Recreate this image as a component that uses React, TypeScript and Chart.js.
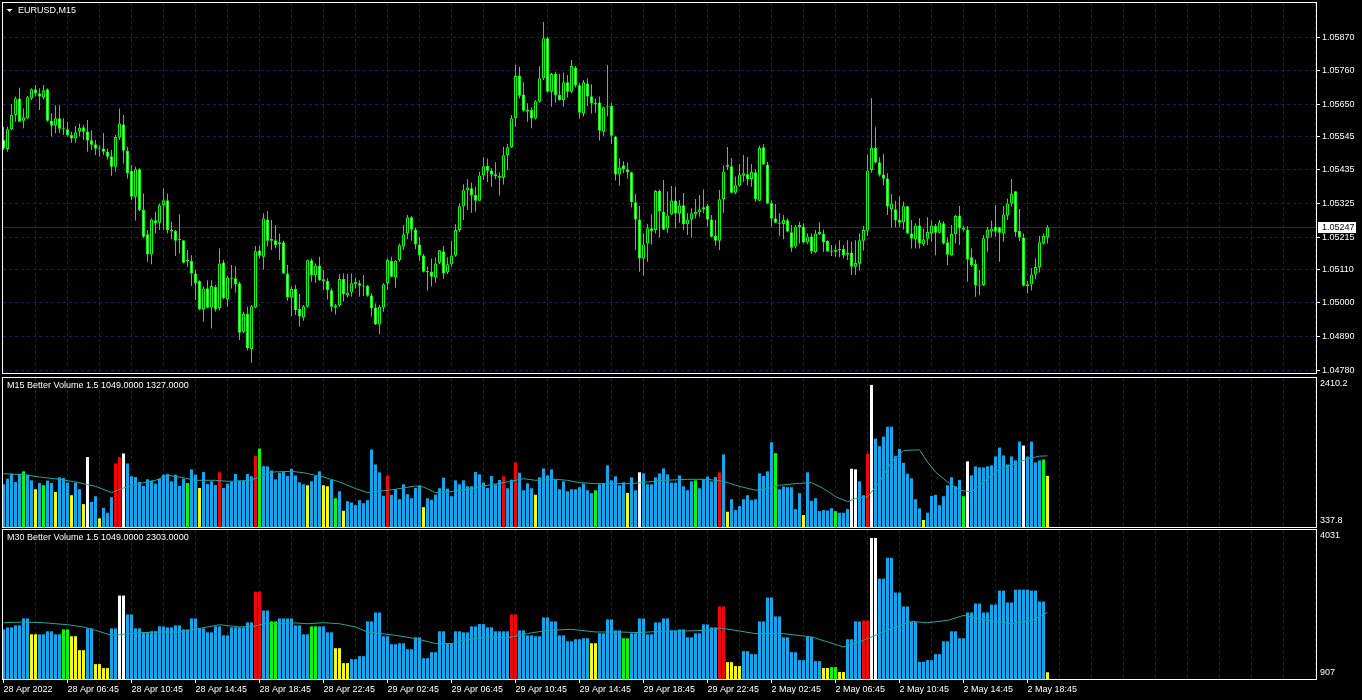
import { useEffect, useRef } from 'react';
import { Chart, registerables } from 'chart.js';

Chart.register(...registerables);

// ---------------- DATA ----------------
const mainTitle = 'EURUSD,M15';
const bidPrice = 1.05247;
const priceTicks = [1.0587, 1.0576, 1.0565, 1.05545, 1.05435, 1.05325, 1.05215, 1.0511, 1.05, 1.0489, 1.0478];
const timeLabels = [
  '28 Apr 2022', '28 Apr 06:45', '28 Apr 10:45', '28 Apr 14:45', '28 Apr 18:45', '28 Apr 22:45',
  '29 Apr 02:45', '29 Apr 06:45', '29 Apr 10:45', '29 Apr 14:45', '29 Apr 18:45', '29 Apr 22:45',
  '2 May 02:45', '2 May 06:45', '2 May 10:45', '2 May 14:45', '2 May 18:45',
];

const openP = [
  1.05533,1.05503,1.05568,1.05615,1.05669,1.05596,1.05604,1.05669,1.05699,1.05685,
  1.05672,1.05699,1.05596,1.05580,1.05604,1.05572,1.05568,1.05549,1.05538,1.05560,
  1.05575,1.05561,1.05532,1.05519,1.05508,1.05505,1.05494,1.05480,1.05445,1.05541,
  1.05584,1.05498,1.05431,1.05347,1.05437,1.05304,1.05224,1.05158,1.05270,1.05262,
  1.05319,1.05336,1.05238,1.05235,1.05205,1.05205,1.05137,1.05137,1.05096,1.05071,
  1.04979,1.05048,1.04985,1.05052,1.04982,1.05132,1.05011,1.05083,1.05080,1.05064,
  1.04905,1.04963,1.04848,1.04985,1.05171,1.05151,1.05273,1.05203,1.05205,1.05192,
  1.05198,1.05096,1.05017,1.05045,1.04980,1.04952,1.04987,1.05139,1.05091,1.05122,
  1.05077,1.05071,1.05041,1.04991,1.04991,1.05078,1.05025,1.05034,1.05061,1.05064,
  1.05057,1.05055,1.05024,1.04985,1.04929,1.04985,1.05064,1.05137,1.05083,1.05140,
  1.05184,1.05227,1.05280,1.05240,1.05191,1.05155,1.05104,1.05102,1.05083,1.05131,
  1.05169,1.05099,1.05126,1.05155,1.05238,1.05316,1.05368,1.05375,1.05353,1.05334,
  1.05417,1.05448,1.05433,1.05421,1.05415,1.05409,1.05483,1.05509,1.05604,1.05744,
  1.05682,1.05631,1.05631,1.05603,1.05658,1.05735,1.05866,1.05691,1.05749,1.05680,
  1.05664,1.05722,1.05691,1.05770,1.05712,1.05620,1.05718,1.05676,1.05656,1.05656,
  1.05560,1.05642,1.05645,1.05544,1.05420,1.05450,1.05437,1.05427,1.05329,1.05273,
  1.05145,1.05194,1.05244,1.05238,1.05367,1.05298,1.05244,1.05289,1.05335,1.05292,
  1.05319,1.05257,1.05273,1.05289,1.05296,1.05306,1.05318,1.05273,1.05219,1.05203,
  1.05339,1.05445,1.05447,1.05360,1.05384,1.05416,1.05421,1.05405,1.05427,1.05334,
  1.05509,1.05453,1.05327,1.05276,1.05263,1.05258,1.05270,1.05231,1.05184,1.05248,
  1.05250,1.05197,1.05217,1.05166,1.05225,1.05227,1.05202,1.05171,1.05167,1.05176,
  1.05176,1.05163,1.05165,1.05118,1.05128,1.05203,1.05236,1.05435,1.05507,1.05460,
  1.05420,1.05407,1.05306,1.05306,1.05271,1.05264,1.05316,1.05227,1.05208,1.05253,
  1.05191,1.05210,1.05227,1.05251,1.05229,1.05260,1.05198,1.05156,1.05224,1.05286,
  1.05246,1.05240,1.05149,1.05127,1.05057,1.05058,1.05211,1.05233,1.05250,1.05247,
  1.05227,1.05286,1.05325,1.05365,1.05235,1.05214,1.05055,1.05060,1.05093,1.05116,
  1.05194,1.05214,
];

const highP = [
  1.05576,1.05576,1.05651,1.05675,1.05704,1.05636,1.05677,1.05702,1.05713,1.05702,
  1.05713,1.05702,1.05620,1.05647,1.05647,1.05604,1.05593,1.05560,1.05579,1.05587,
  1.05582,1.05598,1.05565,1.05533,1.05516,1.05555,1.05505,1.05500,1.05549,1.05636,
  1.05615,1.05511,1.05451,1.05445,1.05440,1.05358,1.05238,1.05276,1.05298,1.05325,
  1.05375,1.05358,1.05265,1.05238,1.05290,1.05205,1.05173,1.05156,1.05107,1.05074,
  1.05053,1.05074,1.05074,1.05058,1.05178,1.05140,1.05088,1.05124,1.05120,1.05069,
  1.04971,1.04987,1.04993,1.05186,1.05186,1.05293,1.05300,1.05271,1.05255,1.05227,
  1.05203,1.05124,1.05053,1.05058,1.05029,1.04993,1.05142,1.05145,1.05129,1.05151,
  1.05107,1.05080,1.05047,1.04996,1.05094,1.05096,1.05094,1.05096,1.05083,1.05074,
  1.05091,1.05058,1.05031,1.04998,1.04993,1.05064,1.05145,1.05151,1.05140,1.05194,
  1.05255,1.05287,1.05284,1.05246,1.05216,1.05160,1.05118,1.05145,1.05149,1.05173,
  1.05186,1.05149,1.05203,1.05257,1.05325,1.05388,1.05404,1.05393,1.05380,1.05429,
  1.05476,1.05472,1.05440,1.05460,1.05427,1.05511,1.05520,1.05615,1.05778,1.05773,
  1.05722,1.05653,1.05640,1.05664,1.05775,1.05919,1.05871,1.05753,1.05756,1.05749,
  1.05753,1.05746,1.05795,1.05775,1.05718,1.05729,1.05735,1.05715,1.05669,1.05675,
  1.05642,1.05778,1.05656,1.05547,1.05473,1.05463,1.05459,1.05429,1.05356,1.05317,
  1.05227,1.05258,1.05290,1.05369,1.05371,1.05402,1.05364,1.05382,1.05380,1.05336,
  1.05359,1.05293,1.05309,1.05340,1.05353,1.05371,1.05323,1.05287,1.05271,1.05369,
  1.05449,1.05510,1.05474,1.05413,1.05454,1.05484,1.05477,1.05454,1.05437,1.05514,
  1.05520,1.05462,1.05336,1.05323,1.05293,1.05287,1.05276,1.05255,1.05255,1.05265,
  1.05260,1.05227,1.05227,1.05238,1.05264,1.05240,1.05205,1.05189,1.05189,1.05205,
  1.05189,1.05205,1.05200,1.05205,1.05227,1.05251,1.05484,1.05670,1.05575,1.05476,
  1.05487,1.05424,1.05356,1.05334,1.05349,1.05331,1.05317,1.05271,1.05260,1.05277,
  1.05243,1.05280,1.05269,1.05258,1.05271,1.05267,1.05213,1.05255,1.05287,1.05317,
  1.05252,1.05251,1.05178,1.05142,1.05107,1.05222,1.05249,1.05269,1.05320,1.05249,
  1.05317,1.05341,1.05405,1.05366,1.05307,1.05227,1.05071,1.05113,1.05145,1.05219,
  1.05227,1.05255,
];

const lowP = [
  1.05500,1.05494,1.05565,1.05593,1.05593,1.05571,1.05601,1.05664,1.05675,1.05631,
  1.05666,1.05593,1.05544,1.05555,1.05555,1.05549,1.05544,1.05524,1.05524,1.05544,
  1.05533,1.05494,1.05500,1.05484,1.05478,1.05484,1.05469,1.05416,1.05429,1.05533,
  1.05456,1.05407,1.05336,1.05269,1.05300,1.05211,1.05134,1.05126,1.05227,1.05238,
  1.05238,1.05227,1.05208,1.05153,1.05162,1.05129,1.05118,1.05055,1.05009,1.04976,
  1.04938,1.04982,1.04916,1.04971,1.04976,1.05012,1.04987,1.05047,1.05034,1.04878,
  1.04900,1.04845,1.04804,1.04982,1.05145,1.05109,1.05184,1.05173,1.05178,1.05140,
  1.05094,1.05007,1.04957,1.04960,1.04922,1.04941,1.04985,1.05069,1.05066,1.05072,
  1.05042,1.05011,1.04971,1.04962,1.04987,1.05004,1.05017,1.05020,1.05047,1.05020,
  1.05022,1.05020,1.04955,1.04927,1.04898,1.04971,1.05042,1.05083,1.05049,1.05134,
  1.05173,1.05208,1.05203,1.05175,1.05138,1.05099,1.05040,1.05053,1.05066,1.05127,
  1.05079,1.05094,1.05118,1.05151,1.05232,1.05271,1.05304,1.05295,1.05298,1.05333,
  1.05402,1.05395,1.05380,1.05404,1.05351,1.05387,1.05435,1.05507,1.05576,1.05669,
  1.05626,1.05593,1.05571,1.05600,1.05655,1.05729,1.05688,1.05642,1.05655,1.05662,
  1.05642,1.05672,1.05685,1.05705,1.05603,1.05609,1.05644,1.05620,1.05622,1.05531,
  1.05546,1.05611,1.05520,1.05400,1.05383,1.05424,1.05407,1.05312,1.05173,1.05102,
  1.05089,1.05134,1.05191,1.05227,1.05214,1.05238,1.05229,1.05287,1.05243,1.05262,
  1.05238,1.05222,1.05213,1.05276,1.05282,1.05293,1.05249,1.05214,1.05187,1.05173,
  1.05295,1.05435,1.05358,1.05355,1.05380,1.05396,1.05384,1.05380,1.05331,1.05332,
  1.05450,1.05323,1.05249,1.05260,1.05219,1.05208,1.05231,1.05167,1.05178,1.05194,
  1.05194,1.05192,1.05160,1.05162,1.05222,1.05167,1.05167,1.05153,1.05151,1.05149,
  1.05145,1.05140,1.05091,1.05091,1.05105,1.05171,1.05219,1.05426,1.05456,1.05413,
  1.05384,1.05287,1.05246,1.05247,1.05247,1.05240,1.05225,1.05178,1.05178,1.05178,
  1.05186,1.05189,1.05200,1.05156,1.05227,1.05191,1.05124,1.05154,1.05194,1.05189,
  1.05233,1.05069,1.05118,1.05020,1.05025,1.05056,1.05167,1.05214,1.05216,1.05134,
  1.05200,1.05271,1.05315,1.05216,1.05202,1.05053,1.05031,1.05040,1.05077,1.05099,
  1.05191,1.05194,
];

const closeP = [
  1.05505,1.05568,1.05615,1.05669,1.05593,1.05607,1.05673,1.05699,1.05685,1.05675,
  1.05696,1.05596,1.05580,1.05604,1.05570,1.05570,1.05549,1.05538,1.05558,1.05573,
  1.05560,1.05531,1.05517,1.05504,1.05505,1.05494,1.05478,1.05445,1.05543,1.05587,
  1.05498,1.05424,1.05347,1.05437,1.05304,1.05216,1.05158,1.05273,1.05260,1.05319,
  1.05336,1.05238,1.05234,1.05203,1.05209,1.05131,1.05140,1.05096,1.05064,1.04979,
  1.05047,1.04984,1.05055,1.04979,1.05129,1.05015,1.05083,1.05079,1.05060,1.04902,
  1.04963,1.04851,1.04989,1.05169,1.05154,1.05276,1.05203,1.05209,1.05189,1.05198,
  1.05096,1.05017,1.05045,1.04976,1.04955,1.04989,1.05139,1.05091,1.05122,1.05074,
  1.05071,1.05042,1.04987,1.04985,1.05078,1.05028,1.05034,1.05064,1.05068,1.05056,
  1.05053,1.05023,1.04982,1.04929,1.04987,1.05061,1.05140,1.05085,1.05138,1.05188,
  1.05224,1.05280,1.05240,1.05191,1.05155,1.05102,1.05100,1.05085,1.05129,1.05172,
  1.05096,1.05126,1.05155,1.05238,1.05316,1.05368,1.05377,1.05351,1.05334,1.05417,
  1.05447,1.05432,1.05419,1.05413,1.05409,1.05483,1.05509,1.05604,1.05742,1.05678,
  1.05629,1.05626,1.05603,1.05660,1.05735,1.05866,1.05691,1.05749,1.05680,1.05664,
  1.05722,1.05691,1.05775,1.05711,1.05622,1.05722,1.05675,1.05653,1.05649,1.05563,
  1.05640,1.05644,1.05547,1.05420,1.05442,1.05437,1.05427,1.05329,1.05273,1.05145,
  1.05191,1.05244,1.05235,1.05366,1.05300,1.05240,1.05286,1.05335,1.05292,1.05319,
  1.05257,1.05273,1.05293,1.05297,1.05306,1.05313,1.05273,1.05216,1.05203,1.05339,
  1.05430,1.05451,1.05360,1.05385,1.05420,1.05424,1.05405,1.05428,1.05340,1.05507,
  1.05453,1.05325,1.05275,1.05262,1.05259,1.05271,1.05233,1.05180,1.05250,1.05255,
  1.05197,1.05217,1.05169,1.05227,1.05232,1.05197,1.05168,1.05167,1.05174,1.05173,
  1.05156,1.05157,1.05118,1.05130,1.05205,1.05238,1.05433,1.05507,1.05459,1.05419,
  1.05406,1.05315,1.05325,1.05269,1.05262,1.05316,1.05227,1.05210,1.05253,1.05194,
  1.05208,1.05232,1.05253,1.05229,1.05264,1.05194,1.05157,1.05225,1.05284,1.05244,
  1.05240,1.05142,1.05124,1.05057,1.05060,1.05211,1.05240,1.05243,1.05233,1.05229,
  1.05289,1.05325,1.05358,1.05231,1.05214,1.05056,1.05061,1.05093,1.05117,1.05198,
  1.05219,1.05247,
];

// M15 Better Volume (one value per M15 bar)
const m15Volume = [
  932,1010,1079,964,1079,1112,1066,987,863,950,
  918,983,950,826,1029,1019,955,780,955,863,
  656,1310,688,766,458,605,536,752,1222,1310,
  1360,1222,1043,1033,964,909,1001,983,941,1006,
  1066,1075,973,1066,909,1010,950,1139,1066,881,
  1102,937,973,923,1098,881,941,964,1075,983,
  983,1075,1043,1324,1429,1185,1181,1125,1001,1093,
  1102,1047,1148,1056,960,932,918,973,1047,1112,
  918,904,992,738,835,563,697,679,642,711,
  669,711,1416,1208,1098,771,1056,785,863,725,
  932,794,738,881,918,614,738,716,789,877,
  1024,872,766,987,932,987,904,904,1102,1070,
  955,881,1047,932,992,1043,877,996,1236,1093,
  849,946,877,785,1029,1153,1056,1139,1001,863,
  973,835,863,863,891,941,849,808,849,932,
  950,1195,987,1043,918,960,812,1029,849,1098,
  1084,932,932,1029,1084,1153,1070,955,955,1056,
  904,849,973,987,877,1001,1038,973,1033,1098,
  1347,550,725,573,628,725,780,711,725,1084,
  1047,1112,1517,1365,863,900,891,891,587,808,
  504,1098,702,738,559,573,568,600,559,536,
  536,587,1148,1139,973,780,1360,2314,1568,1462,
  1595,1733,1733,1324,1425,1231,1079,1015,725,596,
  435,536,771,785,642,766,918,1029,904,992,
  766,1250,1056,1181,1167,1167,1181,1195,1319,1443,
  1333,1208,1319,1264,1526,1471,1319,1526,1236,1264,
  1277,1049,
];
const m15YellowBars = [8, 13, 17, 20, 24, 49, 76, 80, 81, 85, 105, 133, 156, 181, 200, 230, 261];
const m15GreenBars = [5, 10, 46, 64, 83, 148, 173, 193, 208, 240, 260];
const m15RedBars = [28, 29, 54, 63, 96, 125, 128, 179, 216];
const m15WhiteBars = [21, 30, 159, 212, 213, 217, 241, 255];
const m15AvgBar = [
  0,5,9,14,18,21,23,27,30,34,38,41,44,48,53,56,61,63,65,67,72,75,80,84,88,91,94,98,103,105,
  108,111,116,121,126,130,133,138,141,144,148,153,157,161,165,171,176,180,183,188,191,194,198,202,205,
  208,211,213,216,219,222,225,229,231,233,236,239,242,244,247,249,253,256,259,261,
];
const m15AvgValue = [
  1079,1066,1033,1001,964,927,904,817,881,941,987,1056,1033,987,987,973,983,1010,1056,1102,
  1112,1093,1033,964,872,817,835,863,909,895,817,826,863,918,964,1010,987,1001,987,955,
  941,941,941,964,987,1001,1001,973,918,849,872,918,941,955,872,760,690,734,757,964,
  1241,1402,1411,1241,1102,964,849,826,918,1056,1148,1218,1287,1323,1327,
];
const m15Range = [337.8, 2410.2];

// M30 Better Volume (one value per M30 bar; each covers two M15 bars)
const m30Volume = [
  1948,1990,2032,2177,1844,1844,1907,1844,1948,1803,
  1511,1969,1219,1136,1969,2656,2261,1969,1886,1907,
  2011,1990,2032,1948,2177,1969,1886,2011,1823,1990,
  1990,2094,2740,2344,2115,2177,2177,2032,1844,2011,
  2011,1886,1553,1240,1324,1386,2115,2302,1803,1636,
  1657,1532,1782,1344,1469,1907,1657,1907,1886,2011,
  2059,1990,1907,1907,2261,1927,1823,1803,2198,2115,
  1823,1698,1740,1761,1657,1865,2157,1927,1761,1865,
  2177,1844,2094,2177,1927,1948,1782,1865,2052,1990,
  2427,1261,1178,1490,1428,2115,2615,2219,1782,1469,
  1303,1789,1282,1136,1157,1053,1740,2115,2136,3864,
  3010,3448,2719,2427,2101,1268,1303,1428,1698,1907,
  1761,2302,2490,2302,2469,2760,2511,2781,2781,2760,
  2531,1049,
];
const m30YellowBars = [4, 9, 10, 12, 13, 42, 43, 74, 91, 92, 103, 105, 131];
const m30GreenBars = [8, 34, 39, 78, 104];
const m30RedBars = [32, 64, 90, 108];
const m30WhiteBars = [15, 109];
const m30AvgBar = [
  0,5,10,16,20,23,27,29,33,38,44,48,50,54,59,63,65,69,72,76,80,84,88,91,98,103,108,112,115,121,
  126,131,136,142,148,154,159,164,170,176,179,183,188,195,202,210,214,218,222,227,231,236,240,246,252,257,261,
];
const m30AvgValue = [
  2087,2101,2087,2045,1997,1928,1823,1837,1872,1893,1893,1948,1983,2045,1997,2018,2066,2066,2087,2066,
  2087,2066,1997,1893,1823,1754,1650,1650,1719,1789,1768,1860,1927,1948,1893,1893,1879,1907,1914,1927,
  1976,1927,1858,1858,1789,1580,1684,1823,1962,2115,2087,2136,2240,2136,2066,2136,2303,
];
const m30Range = [907, 4031];

// ---------------- STYLE ----------------
const FONT_FAMILY = '"Liberation Sans", Arial, sans-serif';
const FONT = `9px ${FONT_FAMILY}`;
const GRID_COLOR = '#1a1a66';
const BID_LINE_COLOR = '#22228f';
const CANDLE_COLOR = '#00ff00';
const AVG_COLOR = '#26a69a';
const COL = { blue: '#0fa8ee', yellow: '#ffff00', green: '#00ff00', red: '#ff0000', white: '#ffffff' };
const X_MIN = -0.125;
const X_MAX = 328.125;
const GRID_STEP = 8;
const LABEL_STEP = 16;

Chart.defaults.font.family = FONT_FAMILY;
Chart.defaults.font.size = 9;
Chart.defaults.color = '#ffffff';

function stateColor(i: number, y: number[], g: number[], r: number[], w: number[]) {
  if (w.includes(i)) return COL.white;
  if (r.includes(i)) return COL.red;
  if (g.includes(i)) return COL.green;
  if (y.includes(i)) return COL.yellow;
  return COL.blue;
}

function drawGrid(chart: any, withHorizontal: boolean) {
  const { ctx, chartArea: a, scales } = chart;
  ctx.save();
  ctx.beginPath();
  ctx.rect(a.left, a.top, a.right - a.left, a.bottom - a.top);
  ctx.clip();
  ctx.strokeStyle = GRID_COLOR;
  ctx.lineWidth = 1;
  ctx.setLineDash([3, 3]);
  ctx.beginPath();
  for (let k = GRID_STEP; k <= X_MAX; k += GRID_STEP) {
    const px = Math.floor(scales.x.getPixelForValue(k)) + 0.5;
    ctx.moveTo(px, a.top);
    ctx.lineTo(px, a.bottom);
  }
  if (withHorizontal) {
    priceTicks.forEach((v) => {
      const py = Math.floor(scales.y.getPixelForValue(v)) + 0.5;
      ctx.moveTo(a.left, py);
      ctx.lineTo(a.right, py);
    });
  }
  ctx.stroke();
  ctx.restore();
}

function drawBorder(chart: any) {
  const { ctx, chartArea: a } = chart;
  ctx.save();
  ctx.strokeStyle = '#ffffff';
  ctx.lineWidth = 1;
  ctx.strokeRect(a.left - 0.5, a.top - 0.5, a.right - a.left + 1, a.bottom - a.top + 1);
  ctx.restore();
}

const mainPlugin = {
  id: 'mt4main',
  beforeDatasetsDraw(chart: any) {
    drawGrid(chart, true);
    const { ctx, chartArea: a, scales } = chart;
    const by = Math.floor(scales.y.getPixelForValue(bidPrice)) + 0.5;
    ctx.save();
    ctx.strokeStyle = BID_LINE_COLOR;
    ctx.lineWidth = 1;
    ctx.beginPath();
    ctx.moveTo(a.left, by);
    ctx.lineTo(a.right, by);
    ctx.stroke();
    ctx.restore();
  },
  afterDraw(chart: any) {
    drawBorder(chart);
    const { ctx, chartArea: a, scales } = chart;
    ctx.save();
    // price axis: tick marks + labels
    ctx.strokeStyle = '#ffffff';
    ctx.fillStyle = '#ffffff';
    ctx.lineWidth = 1;
    ctx.font = FONT;
    ctx.textBaseline = 'middle';
    ctx.textAlign = 'left';
    priceTicks.forEach((v) => {
      const py = Math.floor(scales.y.getPixelForValue(v)) + 0.5;
      ctx.beginPath();
      ctx.moveTo(a.right, py);
      ctx.lineTo(a.right + 4, py);
      ctx.stroke();
      ctx.fillText(v.toFixed(5), a.right + 6, py);
    });
    // title
    ctx.beginPath();
    ctx.moveTo(6.5, 9);
    ctx.lineTo(12.5, 9);
    ctx.lineTo(9.5, 12);
    ctx.closePath();
    ctx.fill();
    ctx.fillText(mainTitle, 18, 10.5);
    // bid label
    const by = Math.floor(scales.y.getPixelForValue(bidPrice)) + 0.5;
    ctx.fillStyle = '#ffffff';
    ctx.fillRect(a.right + 2, Math.floor(by) - 5, 38, 11);
    ctx.fillStyle = '#000000';
    ctx.fillText(bidPrice.toFixed(5), a.right + 6, by);
    ctx.restore();
  },
};

function volPlugin(title: string, lo: string, hi: string) {
  return {
    id: 'mt4vol',
    beforeDatasetsDraw(chart: any) {
      drawGrid(chart, false);
    },
    afterDraw(chart: any) {
      drawBorder(chart);
      const { ctx, chartArea: a } = chart;
      ctx.save();
      ctx.font = FONT;
      ctx.fillStyle = '#ffffff';
      ctx.textAlign = 'left';
      ctx.textBaseline = 'middle';
      ctx.fillText(title, 7, a.top + 7.5);
      ctx.fillText(hi, a.right + 4, a.top + 5.5);
      ctx.fillText(lo, a.right + 4, a.bottom - 6.5);
      ctx.restore();
    },
  };
}

function makeMain(canvas: HTMLCanvasElement) {
  const idx = openP.map((_, i) => i);
  return new Chart(canvas, {
    type: 'bar',
    data: {
      datasets: [
        {
          label: 'body',
          data: idx.map((i) => ({ x: i, y: [openP[i], closeP[i]] })) as any,
          backgroundColor: idx.map((i) => (closeP[i] >= openP[i] ? '#000000' : '#ffffff')),
          borderColor: CANDLE_COLOR,
          borderWidth: 1,
          borderSkipped: false,
          barThickness: 3,
          minBarLength: 1,
          grouped: false,
          inflateAmount: 0,
          order: 1,
        } as any,
        {
          label: 'wick',
          data: idx.map((i) => ({ x: i, y: [lowP[i], highP[i]] })) as any,
          backgroundColor: CANDLE_COLOR,
          borderWidth: 0,
          barThickness: 1,
          grouped: false,
          inflateAmount: 0,
          order: 2,
        } as any,
      ],
    },
    options: {
      responsive: false,
      animation: false,
      events: [],
      layout: { padding: { left: 3, top: 3, bottom: 1, right: 46 } },
      plugins: { legend: { display: false }, tooltip: { enabled: false } },
      scales: {
        x: { type: 'linear', min: X_MIN, max: X_MAX, offset: false, bounds: 'data', display: false } as any,
        y: {
          type: 'linear',
          min: 1.047702,
          max: 1.059813,
          bounds: 'data',
          beginAtZero: false,
          display: false,
        } as any,
      },
    },
    plugins: [mainPlugin],
  });
}

function makeVolume(
  canvas: HTMLCanvasElement,
  values: number[],
  colors: string[],
  avgBar: number[],
  avgValue: number[],
  range: number[],
  digits: number,
  title: string,
  showTime: boolean,
  padTop: number,
  padBottom: number,
) {
  const xScale: any = {
    type: 'linear',
    min: X_MIN,
    max: X_MAX,
    offset: false,
    bounds: 'data',
    display: showTime,
    position: 'bottom',
  };
  if (showTime) {
    Object.assign(xScale, {
      afterBuildTicks: (s: any) => {
        s.ticks = timeLabels.map((_, i) => ({ value: i * LABEL_STEP }));
      },
      afterFit: (s: any) => {
        s.height = 21;
      },
      ticks: {
        color: '#ffffff',
        font: { family: FONT_FAMILY, size: 9 },
        padding: 1,
        maxRotation: 0,
        minRotation: 0,
        autoSkip: false,
        align: 'start',
        callback: (_v: any, i: number) => timeLabels[i] ?? '',
      },
      grid: { display: true, drawOnChartArea: false, drawTicks: true, tickLength: 4, color: '#ffffff', offset: false },
      border: { display: false },
    });
  }
  return new Chart(canvas, {
    type: 'bar',
    data: {
      datasets: [
        {
          type: 'line',
          label: 'avg',
          data: avgBar.map((k, i) => ({ x: k, y: avgValue[i] })),
          borderColor: AVG_COLOR,
          borderWidth: 1,
          pointRadius: 0,
          tension: 0,
          fill: false,
          order: 1,
        } as any,
        {
          label: 'vol',
          data: values.map((v, k) => ({ x: k, y: v })),
          backgroundColor: colors,
          borderWidth: 0,
          barThickness: 3,
          grouped: false,
          inflateAmount: 0,
          order: 2,
        } as any,
      ],
    },
    options: {
      responsive: false,
      animation: false,
      events: [],
      layout: { padding: { left: 3, right: 46, top: padTop, bottom: padBottom } },
      plugins: { legend: { display: false }, tooltip: { enabled: false } },
      scales: {
        x: xScale,
        y: { type: 'linear', min: range[0], max: range[1], bounds: 'data', beginAtZero: false, display: false } as any,
      },
    },
    plugins: [volPlugin(title, range[0].toFixed(digits), range[1].toFixed(digits))],
  });
}

export default function App() {
  const mainRef = useRef<HTMLCanvasElement>(null);
  const m15Ref = useRef<HTMLCanvasElement>(null);
  const m30Ref = useRef<HTMLCanvasElement>(null);

  useEffect(() => {
    document.body.style.margin = '0';
    document.body.style.background = '#000000';
    const n = openP.length;
    const idx = openP.map((_, i) => i);
    const m15Colors = idx.map((k) => stateColor(k, m15YellowBars, m15GreenBars, m15RedBars, m15WhiteBars));
    const m30PerBar = idx.map((k) => m30Volume[(k + 1) >> 1]);
    const m30Colors = idx.map((k) =>
      stateColor((k + 1) >> 1, m30YellowBars, m30GreenBars, m30RedBars, m30WhiteBars),
    );
    const m15Title = `M15 Better Volume 1.5 ${m15Volume[n - 1].toFixed(4)} ${m15AvgValue[m15AvgValue.length - 1].toFixed(4)}`;
    const m30Title = `M30 Better Volume 1.5 ${m30Volume[m30Volume.length - 1].toFixed(4)} ${m30AvgValue[m30AvgValue.length - 1].toFixed(4)}`;

    const charts = [
      makeMain(mainRef.current!),
      makeVolume(m15Ref.current!, m15Volume, m15Colors, m15AvgBar, m15AvgValue, m15Range, 1, m15Title, false, 4, 1),
      makeVolume(m30Ref.current!, m30PerBar, m30Colors, m30AvgBar, m30AvgValue, m30Range, 0, m30Title, true, 2, 0),
    ];
    return () => charts.forEach((c) => c.destroy());
  }, []);

  return (
    <div style={{ position: 'relative', width: 1362, height: 700, background: '#000000', overflow: 'hidden' }}>
      <canvas ref={mainRef} width={1362} height={374} style={{ position: 'absolute', left: 0, top: 0 }} />
      <canvas ref={m15Ref} width={1362} height={154} style={{ position: 'absolute', left: 0, top: 374 }} />
      <canvas ref={m30Ref} width={1362} height={172} style={{ position: 'absolute', left: 0, top: 528 }} />
    </div>
  );
}
